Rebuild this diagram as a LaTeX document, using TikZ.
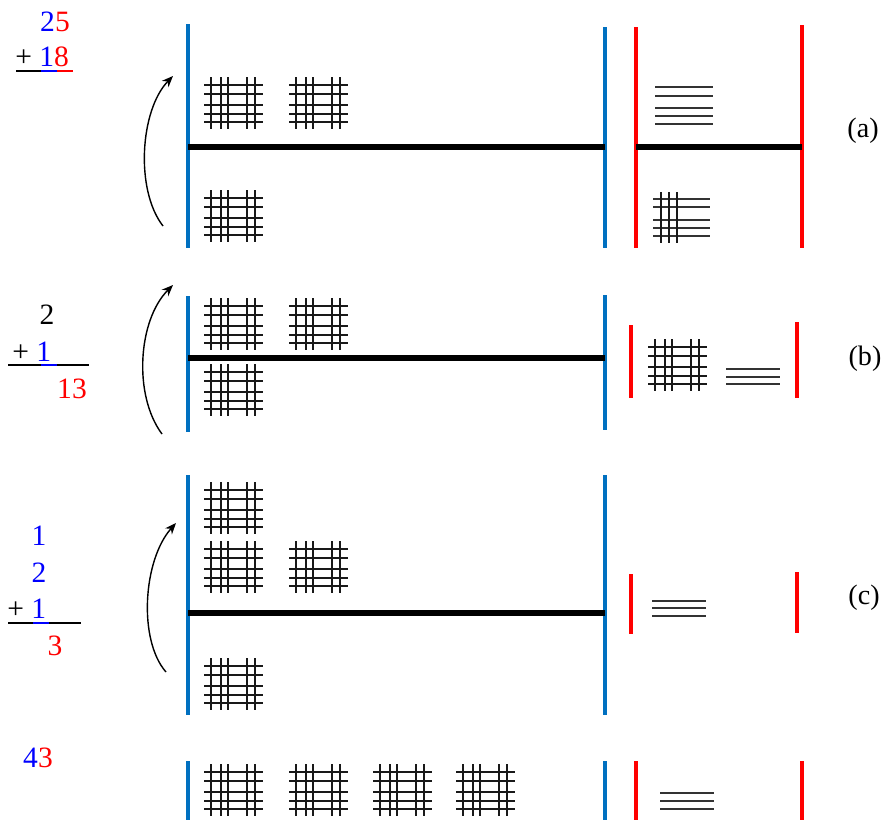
\documentclass[tikz,border=0pt]{standalone}
\usepackage{fontspec}
\setmainfont{Liberation Serif}
\usetikzlibrary{arrows.meta}

\definecolor{azul}{RGB}{0,112,192}
\definecolor{rojo}{RGB}{255,0,0}
\definecolor{cifraazul}{RGB}{0,0,255}

\tikzset{
  barraazul/.style={azul, line width=3pt},
  barraroja/.style={rojo, line width=3pt},
  linea/.style={black, line width=3.8pt},
  palito/.style={black!90, line width=2.1pt},
  unidad/.style={black!80, line width=2pt},
  subraya/.style={line width=1.8pt},
  flecha/.style={-{Stealth[length=8pt,width=6.5pt]}, line width=1pt},
  cifras/.style={font=\fontsize{21}{25}\selectfont, inner sep=0pt, anchor=base},
  suma/.style={cifras, anchor=base west},
  etiqueta/.style={font=\fontsize{20}{24}\selectfont, inner sep=0pt},
  decena/.pic={
    \draw[palito] (0,8) -- (59,8) (0,17) -- (59,17) (0,28) -- (59,28)
                  (0,37) -- (59,37) (0,45) -- (59,45);
    \draw[palito] (7,0) -- (7,52) (17,0) -- (17,52) (24,0) -- (24,52)
                  (43,0) -- (43,52) (51,0) -- (51,52);
  }
}

\begin{document}
\begin{tikzpicture}[x=0.025cm, y=-0.025cm]
    \useasboundingbox (0,0) rectangle (885,822);

    % Fila (a)
    \node[cifras] (na1) at (55,31) {\color{cifraazul}2\color{rojo}5};
    \node[suma] (na2) at (15,66) {+ \color{cifraazul}1\color{rojo}8};
    \draw[subraya] (16,71) -- (41,71);
    \draw[subraya, cifraazul] (41,71) -- (57,71);
    \draw[subraya, rojo] (57,71) -- (73,71);

    \draw[barraazul] (188,24) -- (188,248);
    \draw[barraazul] (605,27) -- (605,248);
    \draw[barraroja] (636,27) -- (636,248);
    \draw[barraroja] (802,25) -- (802,248);
    \draw[linea] (188,147) -- (605,147);
    \draw[linea] (636,147) -- (802,147);

    \pic at (204,77) {decena};
    \pic at (289,77) {decena};
    \pic at (204,190) {decena};

    \draw[unidad] (655,87) -- (713,87) (655,96) -- (713,96) (655,108) -- (713,108)
                  (655,116) -- (713,116) (655,124) -- (713,124);
    \draw[unidad] (653,199) -- (710,199) (653,207) -- (710,207) (653,220) -- (710,220)
                  (653,228) -- (710,228) (653,236) -- (710,236);
    \draw[palito] (661,192) -- (661,243) (669,192) -- (669,243) (677,192) -- (677,243);

    \coordinate (fa1) at (163,226);
    \coordinate (fa2) at (173,76);
    \draw[flecha] (fa1) .. controls (135,190) and (140,110) .. (fa2);

    \node[etiqueta] (la) at (863,131) {(a)};

    % Fila (b)
    \node[cifras] (nb1) at (47,324) {2};
    \node[suma] (nb2) at (12,361) {+ \color{cifraazul}1};
    \node[cifras, text=rojo] (nb3) at (72,398) {13};
    \draw[subraya] (8,365) -- (41,365);
    \draw[subraya, cifraazul] (41,365) -- (57,365);
    \draw[subraya] (57,365) -- (89,365);

    \draw[barraazul] (188,296) -- (188,432);
    \draw[barraazul] (605,295) -- (605,430);
    \draw[barraroja] (631,325) -- (631,398);
    \draw[barraroja] (797,322) -- (797,398);
    \draw[linea] (188,358) -- (605,358);

    \pic at (204,298) {decena};
    \pic at (289,298) {decena};
    \pic at (204,364) {decena};
    \pic at (648,339) {decena};

    \draw[unidad] (726,369) -- (780,369) (726,377) -- (780,377) (726,384) -- (780,384);

    \coordinate (fb1) at (162,434);
    \coordinate (fb2) at (173,285);
    \draw[flecha] (fb1) .. controls (133,395) and (138,320) .. (fb2);

    \node[etiqueta] (lb) at (865,359) {(b)};

    % Fila (c)
    \node[cifras, text=cifraazul] (nc1) at (39,545) {1};
    \node[cifras, text=cifraazul] (nc2) at (39,582) {2};
    \node[suma] (nc3) at (7,618) {+ \color{cifraazul}1};
    \node[cifras, text=rojo] (nc4) at (55,655) {3};
    \draw[subraya] (8,623) -- (33,623);
    \draw[subraya, cifraazul] (33,623) -- (49,623);
    \draw[subraya] (49,623) -- (81,623);

    \draw[barraazul] (188,475) -- (188,715);
    \draw[barraazul] (605,475) -- (605,715);
    \draw[barraroja] (631,574) -- (631,634);
    \draw[barraroja] (797,572) -- (797,633);
    \draw[linea] (188,613) -- (605,613);

    \pic at (204,482) {decena};
    \pic at (204,541) {decena};
    \pic at (289,541) {decena};
    \pic at (204,658) {decena};

    \draw[unidad] (652,601) -- (706,601) (652,608) -- (706,608) (652,616) -- (706,616);

    \coordinate (fc1) at (166,672);
    \coordinate (fc2) at (176,523);
    \draw[flecha] (fc1) .. controls (138,640) and (143,560) .. (fc2);

    \node[etiqueta] (lc) at (864,598) {(c)};

    % Resultado
    \node[cifras] (nd) at (38,767) {\color{cifraazul}4\color{rojo}3};

    \draw[barraazul] (188,761) -- (188,820);
    \draw[barraazul] (605,761) -- (605,820);
    \draw[barraroja] (636,761) -- (636,820);
    \draw[barraroja] (802,761) -- (802,820);

    \pic at (204,764) {decena};
    \pic at (289,764) {decena};
    \pic at (373,764) {decena};
    \pic at (456,764) {decena};

    \draw[unidad] (660,793) -- (714,793) (660,801) -- (714,801) (660,809) -- (714,809);
\end{tikzpicture}
\end{document}
